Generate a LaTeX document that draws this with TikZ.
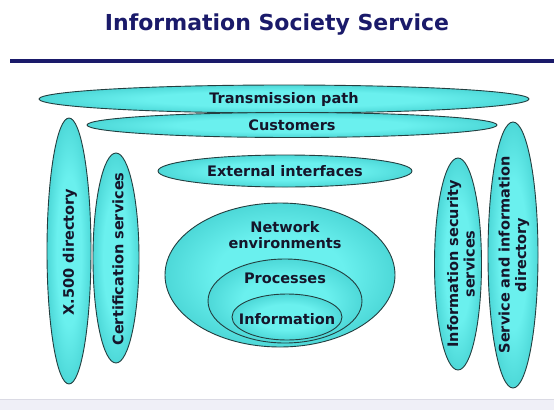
\documentclass[tikz,border=0pt]{standalone}
\usepackage{fontspec}
\setmainfont{DejaVu Sans}
\usetikzlibrary{shapes.geometric}
\definecolor{cyC}{HTML}{6AF0EE}
\definecolor{cyM}{HTML}{48D4D4}
\definecolor{cyE}{HTML}{2A9EA0}
\definecolor{edgec}{HTML}{233F40}
\definecolor{navy}{HTML}{1A1A6A}
\definecolor{lbl}{HTML}{15152A}
\definecolor{band}{HTML}{EFEFF7}
\definecolor{bandline}{HTML}{DADAE4}
\pgfdeclareradialshading{cyball}{\pgfpoint{0bp}{0bp}}{color(0bp)=(cyC); color(14bp)=(cyC); color(27bp)=(cyM); color(36bp)=(cyE); color(50bp)=(cyE)}
\begin{document}
\begin{tikzpicture}[x=1pt,y=-1pt,
  ell/.style={ellipse, draw=edgec, line width=0.9pt, shading=cyball, inner sep=0pt},
  lab/.style={font=\fontsize{14.5}{16.5}\selectfont\bfseries, text=lbl, align=center, inner sep=0pt}]
\useasboundingbox (0,0) rectangle (554,410);
\fill[white] (0,0) rectangle (554,410);
\fill[band] (0,399) rectangle (554,410);
\draw[bandline, line width=0.8pt] (0,399) -- (554,399);
% title and rule
\node[font=\fontsize{22}{26}\selectfont\bfseries, text=navy, inner sep=0pt] (title) at (277,24.5) {Information Society Service};
\coordinate (r1) at (10,61);
\coordinate (r2) at (554,61);
\draw[navy, line width=4pt] (r1) -- (r2);
% ellipses
\node[ell, minimum width=490pt, minimum height=28pt] (tp) at (284,99) {};
\node[ell, minimum width=410pt, minimum height=25pt] (cu) at (292,125) {};
\node[ell, minimum width=254pt, minimum height=32pt] (ei) at (285,171) {};
\node[ell, minimum width=44pt, minimum height=266pt] (x5) at (69,251) {};
\node[ell, minimum width=46pt, minimum height=210pt] (cs) at (116,258) {};
\node[ell, minimum width=47pt, minimum height=212pt] (is) at (458,264) {};
\node[ell, minimum width=50pt, minimum height=266pt] (sd) at (513,255) {};
\node[ell, minimum width=230pt, minimum height=144pt] (ne) at (280,275) {};
\node[ell, minimum width=154pt, minimum height=84pt] (pr) at (285,301) {};
\node[ell, minimum width=110pt, minimum height=46pt] (in) at (287,317) {};
% labels
\node[lab] (tpl) at (tp.center) {Transmission path};
\node[lab] (cul) at (cu.center) {Customers};
\node[lab] (eil) at (ei.center) {External interfaces};
\node[lab] (nel) at (285,235) {Network\\environments};
\node[lab] (prl) at (285,278) {Processes};
\node[lab] (inl) at (287,319) {Information};
\node[lab, rotate=90] (x5l) at (70,252) {X.500 directory};
\node[lab, rotate=90] (csl) at (118,259) {Certification services};
\node[lab, rotate=90] (isl) at (461,264) {Information security\\services};
\node[lab, rotate=90] (sdl) at (514,255) {Service and information\\directory};
\end{tikzpicture}
\end{document}
